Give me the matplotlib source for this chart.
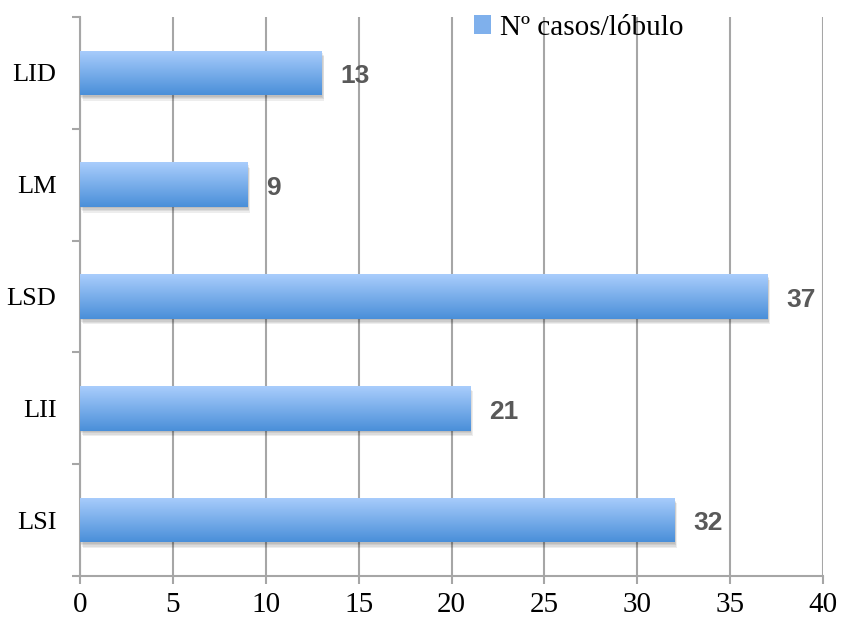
import numpy as np
import matplotlib
matplotlib.use('Agg')
import matplotlib.pyplot as plt
import matplotlib.patheffects as pe
from matplotlib.colors import LinearSegmentedColormap
from matplotlib.patches import Patch

# Casos por lóbulo (de abajo hacia arriba)
lobulos = ['LSI', 'LII', 'LSD', 'LM', 'LID']
casos = [32, 21, 37, 9, 13]
x_ticks = [0, 5, 10, 15, 20, 25, 30, 35, 40]

grid_color = '#a6a6a6'
blue_cmap = LinearSegmentedColormap.from_list('azul', ['#4a8fd9', '#a9cdfc'])
serif = 'Liberation Serif'

fig = plt.figure(figsize=(8.41, 6.23), dpi=100)
ax = fig.add_axes([80 / 841, 47 / 623, 743 / 841, 559 / 623])

y = np.arange(len(lobulos))
bar_h = 0.4
# sombra difusa: varias capas desplazadas con poca opacidad
shadow = [pe.SimplePatchShadow(offset=(dx, -dy), shadow_rgbFace='#000000', alpha=0.07)
          for dx, dy in [(0.5, 1), (1, 2), (1.5, 3), (2, 4)]]
bars = ax.barh(y, casos, height=bar_h, color='#7fb0ec', zorder=3,
               path_effects=shadow + [pe.Normal()])

# degradado vertical dentro de cada barra
grad = np.linspace(0, 1, 100).reshape(-1, 1)
for b in bars:
    x0, y0, w, h = b.get_x(), b.get_y(), b.get_width(), b.get_height()
    im = ax.imshow(grad, extent=[x0, x0 + w, y0, y0 + h], origin='lower',
                   aspect='auto', cmap=blue_cmap, zorder=4)
    im.set_clip_path(b)

# etiquetas de valor
for yi, v in zip(y, casos):
    ax.text(v + 1.0, yi - 0.03, str(v), va='center', ha='left', fontsize=19,
            fontweight='bold', color='#595959', family='Liberation Sans', zorder=5)

ax.set_xlim(0, 40)
ax.set_ylim(-0.5, len(lobulos) - 0.5)
ax.set_xticks(x_ticks)
ax.set_xticklabels([str(t) for t in x_ticks], family=serif, fontsize=21)
ax.set_yticks(y)
ax.set_yticklabels(lobulos, family=serif, fontsize=19)
ax.set_yticks(np.arange(-0.5, len(lobulos)), minor=True)

ax.tick_params(axis='y', which='major', length=0, pad=17)
ax.tick_params(axis='y', which='minor', length=5.5, width=1.5, color=grid_color)
ax.tick_params(axis='x', which='major', length=5.5, width=1.5, color=grid_color, pad=6)

ax.grid(axis='x', color=grid_color, linewidth=1.5, zorder=0)
ax.set_axisbelow(True)
for side in ['top', 'right']:
    ax.spines[side].set_visible(False)
for side in ['left', 'bottom']:
    ax.spines[side].set_color(grid_color)
    ax.spines[side].set_linewidth(1.5)

ax.legend(handles=[Patch(facecolor='#7fb0ec', edgecolor='none')],
          labels=['Nº casos/lóbulo'], loc='upper left',
          bbox_to_anchor=(459 / 841, 1.0), bbox_transform=fig.transFigure,
          frameon=False, prop={'family': serif, 'size': 21},
          handlelength=0.6, handleheight=0.6, handletextpad=0.3, borderaxespad=0.1)

fig.savefig('out.png', dpi=100)
